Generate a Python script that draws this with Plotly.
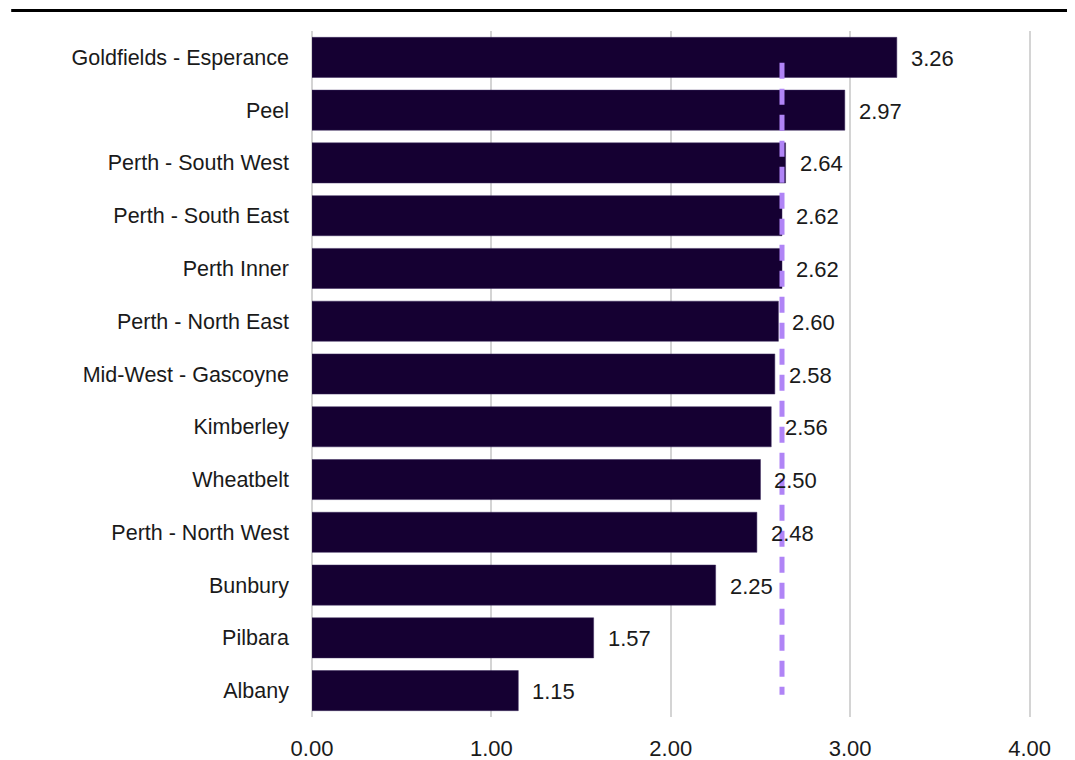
import plotly.graph_objects as go

regions = ["Goldfields - Esperance", "Peel", "Perth - South West", "Perth - South East",
           "Perth Inner", "Perth - North East", "Mid-West - Gascoyne", "Kimberley",
           "Wheatbelt", "Perth - North West", "Bunbury", "Pilbara", "Albany"]
values = [3.26, 2.97, 2.64, 2.62, 2.62, 2.60, 2.58, 2.56, 2.50, 2.48, 2.25, 1.57, 1.15]
average = 2.62
x_ticks = [0, 1, 2, 3, 4]
x_tick_labels = ["0.00", "1.00", "2.00", "3.00", "4.00"]

FONT = "Liberation Sans, Arial, sans-serif"
BAR = "#150032"
AVG = "#B084F6"
TXT = "#1a1a1a"

# page body has an 8px default margin; figure sized to fill the rest of the window
W, H = 1067, 752
L, T, B = 304, 23, 43
PLOT_W = 719.5
R = W - L - PLOT_W
PLOT_H = H - T - B

fig = go.Figure()
fig.add_trace(go.Bar(
    x=values, y=regions, orientation="h",
    marker=dict(color=BAR, line=dict(color="#3d2a5e", width=0.5)),
    hoverinfo="x+y", showlegend=False,
))

for r, v in zip(regions, values):
    fig.add_annotation(x=v, y=r, text=f"{v:.2f}", showarrow=False,
                       xanchor="left", xshift=12, yshift=-1,
                       font=dict(family=FONT, size=22, color=TXT))

# average dashed line
fig.add_shape(type="line", xref="x", yref="y",
              x0=average, x1=average, y0=0.1, y1=12.08,
              line=dict(color=AVG, width=5, dash="16px,10px"))

# top rule
fig.add_shape(type="line", xref="paper", yref="paper",
              x0=(3 - L) / PLOT_W, x1=(1062 - L) / PLOT_W,
              y0=(PLOT_H + T - 2.5) / PLOT_H, y1=(PLOT_H + T - 2.5) / PLOT_H,
              line=dict(color="black", width=3))

fig.update_layout(
    width=W, height=H,
    margin=dict(l=L, r=R, t=T, b=B, pad=0),
    paper_bgcolor="white", plot_bgcolor="white",
    bargap=0.24,
    font=dict(family=FONT, size=20, color=TXT),
)
fig.update_xaxes(range=[0, 4.008], tickvals=x_ticks, ticktext=x_tick_labels,
                 showgrid=True, gridcolor="#d4d4d4", gridwidth=1.5,
                 zeroline=True, zerolinecolor="#d4d4d4", zerolinewidth=1.5,
                 showline=False, ticks="", automargin=False,
                 ticklabelstandoff=16,
                 tickfont=dict(family=FONT, size=22, color=TXT))
fig.update_yaxes(range=[12.5, -0.5], showgrid=False, zeroline=False,
                 showline=False, ticks="", ticklabelstandoff=22, automargin=False,
                 tickfont=dict(family=FONT, size=21.5, color=TXT))

fig.write_html("out.html")
